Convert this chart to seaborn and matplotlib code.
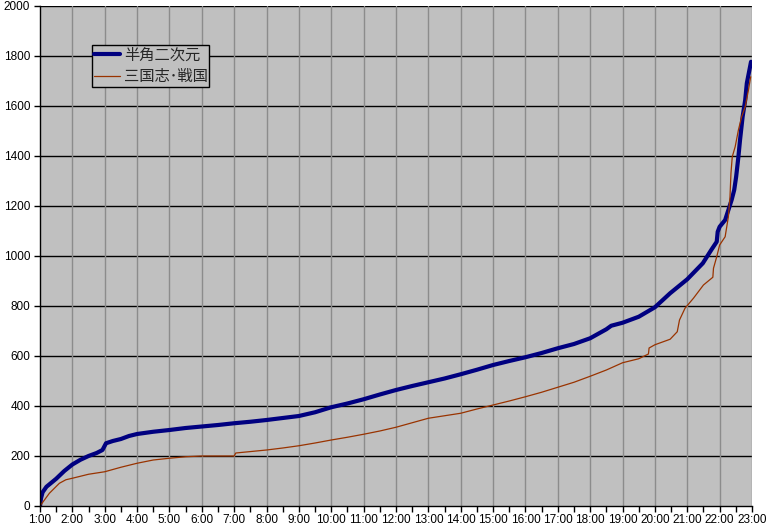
import matplotlib
matplotlib.use("Agg")
import matplotlib.pyplot as plt
import seaborn as sns
import pandas as pd
import numpy as np
from matplotlib.ticker import MultipleLocator

# ---- data ----
series_names = ["半角二次元", "三国志･戦国"]

blue_hours = [1.00, 1.03, 1.08, 1.20, 1.50, 1.75, 2.00, 2.25, 2.50, 2.75, 2.93, 3.04,
              3.25, 3.50, 3.75, 4.00, 4.50, 5.00, 5.50, 6.00, 6.50, 7.00, 7.50, 8.00,
              8.50, 9.00, 9.50, 10.00, 10.50, 11.00, 11.50, 12.00, 12.50, 13.00, 13.50,
              14.00, 14.50, 15.00, 15.50, 16.00, 16.50, 17.00, 17.50, 18.00, 18.50,
              18.65, 19.00, 19.50, 20.00, 20.47, 21.00, 21.48, 21.74, 21.91, 21.94,
              22.00, 22.17, 22.27, 22.37, 22.45, 22.51, 22.58, 22.63, 22.71, 22.79,
              22.84, 22.94, 22.97]
blue_values = [0, 30, 55, 77, 109, 140, 166, 185, 200, 212, 224, 251,
               260, 268, 280, 288, 297, 304, 312, 318, 324, 331, 337, 344,
               352, 360, 375, 395, 410, 427, 446, 464, 480, 495, 510,
               527, 545, 564, 580, 595, 612, 631, 648, 671, 707,
               721, 733, 757, 795, 851, 907, 971, 1024, 1057, 1097,
               1117, 1144, 1184, 1224, 1264, 1317, 1397, 1464, 1557, 1624,
               1691, 1757, 1777]

orange_hours = [1.00, 1.29, 1.60, 1.80, 2.00, 2.50, 3.00, 3.50, 4.00, 4.50, 5.00, 5.50,
                6.00, 7.00, 7.05, 8.00, 8.50, 9.00, 9.50, 10.00, 10.50, 11.00, 11.50,
                12.00, 12.50, 13.00, 13.50, 14.00, 14.50, 15.00, 15.50, 16.00, 16.50,
                17.00, 17.50, 18.00, 18.50, 19.00, 19.50, 19.80, 19.82, 20.00, 20.47,
                20.69, 20.76, 20.93, 21.19, 21.50, 21.79, 21.81, 21.91, 22.00, 22.17,
                22.27, 22.32, 22.35, 22.39, 22.48, 22.58, 22.68, 22.79, 22.89, 22.96]
orange_values = [0, 51, 91, 105, 111, 127, 137, 155, 171, 184, 191, 197,
                 200, 200, 212, 224, 232, 241, 252, 264, 275, 287, 300,
                 315, 333, 351, 361, 371, 388, 404, 420, 437, 455,
                 475, 495, 519, 544, 573, 589, 608, 632, 645, 667,
                 697, 744, 791, 831, 884, 915, 951, 997, 1044, 1077,
                 1157, 1237, 1331, 1397, 1437, 1504, 1557, 1597, 1664, 1717]

hour_labels = [f"{h}:00" for h in range(1, 24)]
y_ticks = list(range(0, 2001, 200))

# ---- style ----
sns.set_style("ticks")
plt.rcParams["font.family"] = ["Noto Sans CJK JP", "DejaVu Sans"]

W, H = 767, 527
fig = plt.figure(figsize=(W / 100, H / 100), dpi=100, facecolor="white")
ax = fig.add_axes([40 / W, (H - 506) / H, 712 / W, 500 / H])
ax.set_facecolor("#C0C0C0")

df = pd.concat([
    pd.DataFrame({"hour": blue_hours, "count": blue_values, "series": series_names[0]}),
    pd.DataFrame({"hour": orange_hours, "count": orange_values, "series": series_names[1]}),
], ignore_index=True)

colors = {series_names[0]: "#000080", series_names[1]: "#993300"}
widths = {series_names[0]: 3.0, series_names[1]: 0.9}
for name in series_names:
    sns.lineplot(data=df[df["series"] == name], x="hour", y="count", ax=ax,
                 color=colors[name], linewidth=widths[name], label=name,
                 estimator=None, sort=False, zorder=3)

ax.set_xlim(1, 23)
ax.set_ylim(0, 2000)
ax.set_xticks(range(1, 24))
ax.set_xticklabels(hour_labels)
ax.xaxis.set_minor_locator(MultipleLocator(0.5))
ax.set_yticks(y_ticks)
ax.set_yticklabels([str(v) for v in y_ticks])
ax.set_xlabel("")
ax.set_ylabel("")

ax.grid(False)
for v in y_ticks[1:]:
    ax.axhline(v, color="black", linewidth=1.0, zorder=1)
for h in range(2, 24):
    ax.axvline(h, color="#8C8C8C", linewidth=1.0, zorder=1)

for s in ["top", "right"]:
    ax.spines[s].set_visible(False)
for s in ["left", "bottom"]:
    ax.spines[s].set_color("black")
    ax.spines[s].set_linewidth(1.0)
    ax.spines[s].set_zorder(4)

ax.tick_params(axis="both", which="both", direction="out", length=4, width=1,
               color="black", labelsize=8.5, labelcolor="black")
ax.tick_params(axis="x", which="major", pad=2)
ax.tick_params(axis="y", which="major", pad=3)
ax.tick_params(axis="y", which="minor", length=0)
for lbl in ax.get_xticklabels() + ax.get_yticklabels():
    lbl.set_fontfamily(["Liberation Sans", "DejaVu Sans"])
    lbl.set_fontsize(8.5)

leg = ax.legend(loc="upper left", bbox_to_anchor=(92 / W, 1 - 45 / H),
                bbox_transform=fig.transFigure, borderaxespad=0,
                frameon=True, fancybox=False, framealpha=1, fontsize=11,
                handlelength=1.7, handletextpad=0.3, labelspacing=0.3,
                borderpad=0.1)
leg.get_frame().set_facecolor("#C0C0C0")
leg.get_frame().set_edgecolor("black")
leg.get_frame().set_linewidth(1.0)

fig.savefig("out.png", dpi=100, facecolor="white")
